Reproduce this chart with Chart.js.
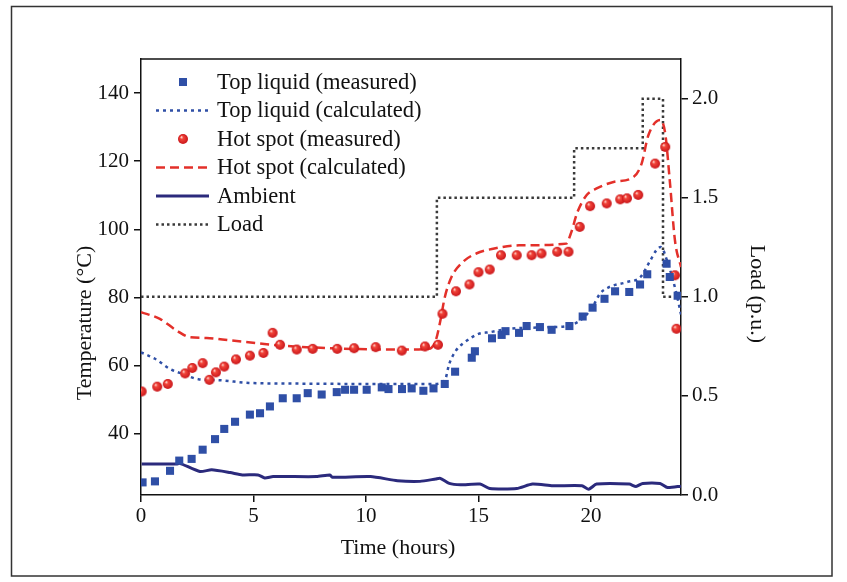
<!DOCTYPE html>
<html><head><meta charset="utf-8">
<script src="https://cdn.jsdelivr.net/npm/chart.js@4.4.1/dist/chart.umd.min.js"></script>
<style>html,body{margin:0;padding:0;background:#fff;}#wrap{position:relative;width:847px;height:582px;}</style>
</head><body><div id="wrap"><canvas id="c"></canvas></div>
<script>
// ---- tick labels ----
const timeTicks = [0, 5, 10, 15, 20];
const tempTicks = [40, 60, 80, 100, 120, 140];
const loadTicks = [0.0, 0.5, 1.0, 1.5, 2.0];

// ---- Top liquid (measured) ----
const topMeasT = [0.07,0.62,1.29,1.7,2.25,2.74,3.29,3.7,4.18,4.84,5.29,5.73,6.3,6.92,7.41,8.03,8.7,9.07,9.47,10.03,10.7,11.0,11.6,12.03,12.55,13.0,13.5,13.96,14.7,14.84,15.6,16.03,16.2,16.8,17.14,17.73,18.25,19.04,19.63,20.07,20.6,21.07,21.7,22.18,22.5,23.36,23.5,23.85];
const topMeasV = [25.7,26.0,29.1,32.1,32.6,35.3,38.4,41.4,43.5,45.6,46.0,48.0,50.4,50.4,51.9,51.5,52.2,52.9,52.9,52.9,53.6,53.1,53.1,53.3,52.6,53.3,54.6,58.2,62.3,64.2,68.0,69.0,70.1,69.6,71.6,71.3,70.5,71.6,74.4,77.0,79.6,81.8,81.6,83.8,86.8,89.9,86.0,80.5];

// ---- Top liquid (calculated) ----
const topCalcT = [0,0.62,1.29,1.88,2.55,3.5,4.8,7,10,13,13.5,13.7,14.0,14.5,15.0,15.5,16.4,18.3,19.07,19.7,20.1,20.4,20.8,21.6,22.2,22.6,22.9,23.1,23.4,23.8,24];
const topCalcV = [63.9,62.0,59.0,57.5,56.0,55.7,54.9,54.7,54.6,54.6,55.6,60.5,64.4,67.4,69.3,69.8,70.8,71.3,71.8,74.2,77.6,81.1,83.0,84.5,86.0,90.4,93.8,94.8,90.4,81.1,75.0];

// ---- Hot spot (measured) ----
const hotMeasT = [0.03,0.72,1.19,1.96,2.28,2.74,3.04,3.33,3.7,4.22,4.84,5.44,5.85,6.18,6.92,7.63,8.72,9.47,10.43,11.59,12.62,13.2,13.4,14.0,14.6,15.0,15.5,16.0,16.7,17.36,17.8,18.5,19.0,19.5,19.96,20.7,21.3,21.6,22.1,22.85,23.3,23.73,23.8];
const hotMeasV = [52.4,53.8,54.6,57.7,59.3,60.7,55.8,58.0,59.7,61.8,62.9,63.7,69.6,66.1,64.7,64.9,64.9,65.1,65.4,64.4,65.6,66.1,75.2,81.8,83.8,87.4,88.2,92.4,92.4,92.4,92.9,93.4,93.4,100.7,106.8,107.6,108.8,109.1,110.1,119.3,124.2,86.5,70.8];

// ---- Hot spot (calculated) ----
const hotCalcT = [0,0.84,1.58,2.18,2.92,3.96,5.14,6.18,8.4,11.4,12.8,13.1,13.3,13.5,13.8,14.3,14.9,15.65,16.8,18.9,19.1,19.4,19.8,20.25,21.0,21.9,22.25,22.55,23.07,23.3,23.5,23.73,24];
const hotCalcV = [75.7,73.7,70.3,68.3,68.1,67.4,66.6,65.9,65.1,64.7,64.9,67.4,73.0,80.0,86.0,90.4,92.9,94.3,95.3,95.8,98.7,105.1,110.0,112.0,113.9,115.4,119.3,127.6,132.1,128.1,114.4,96.8,88.9];

// ---- Ambient ----
const ambT = [0.03,1.58,1.73,2.62,3.14,3.96,4.5,5.2,5.5,5.87,7.8,8.4,8.5,10.2,11.4,12.4,13.1,13.3,13.7,14.2,15.07,15.5,16.7,17.4,18.3,19.6,19.9,20.25,21.7,22.0,22.3,23.07,23.4,24];
const ambV = [31.1,31.1,31.3,28.9,29.4,28.6,27.9,27.9,27.0,27.4,27.4,27.9,27.2,27.4,26.2,26.0,26.7,26.9,25.4,25.0,25.2,23.9,23.9,25.2,24.7,24.7,23.7,25.2,25.2,24.5,25.4,25.4,24.2,24.6];

// ---- Load (step changes, p.u.) ----
const loadT = [0, 13.15, 19.25, 22.3, 23.2, 24];
const loadV = [1.0, 1.5, 1.75, 2.0, 1.0, 1.0];

const zip = (t, v) => t.map((x, i) => ({x: x, y: v[i]}));

const BLUE = '#2f4fa6', RED = '#e3302a', NAVY = '#2b2a7c', LOADC = '#3a3a3a';
const SERIF = '"Liberation Serif", "Times New Roman", serif';

function sphere(r) {
  const c = document.createElement('canvas');
  c.width = c.height = 2 * r + 2;
  const g = c.getContext('2d');
  const cx = r + 1, cy = r + 1;
  const grad = g.createRadialGradient(cx - r * 0.35, cy - r * 0.4, r * 0.05, cx, cy, r);
  grad.addColorStop(0, '#ffe2da');
  grad.addColorStop(0.3, '#f2453a');
  grad.addColorStop(1, '#c9151a');
  g.fillStyle = grad;
  g.beginPath(); g.arc(cx, cy, r, 0, Math.PI * 2); g.fill();
  return c;
}
const ball = sphere(5);

const styles = {
  topCalcDash: [3, 4],
  hotCalcDash: [9, 5],
  loadDash: [2.5, 3]
};

const overlay = {
  id: 'overlay',
  afterDraw(chart) {
    const ctx = chart.ctx, a = chart.chartArea;
    ctx.save();
    ctx.strokeStyle = '#111'; ctx.lineWidth = 1.5;
    ctx.beginPath(); ctx.moveTo(a.left, a.top); ctx.lineTo(a.right, a.top); ctx.stroke();
    ctx.strokeStyle = '#333'; ctx.lineWidth = 1.5;
    ctx.strokeRect(11.5, 6.5, 820.5, 569.5);
    ctx.fillStyle = '#111';
    ctx.font = '22px ' + SERIF;
    ctx.textAlign = 'center'; ctx.textBaseline = 'middle';
    ctx.fillText('Time (hours)', 398, 548);
    ctx.save(); ctx.translate(85, 323); ctx.rotate(-Math.PI / 2);
    ctx.fillText('Temperature (\u00B0C)', 0, 0); ctx.restore();
    ctx.save(); ctx.translate(757, 294); ctx.rotate(Math.PI / 2);
    ctx.fillText('Load (p.u.)', 0, 0); ctx.restore();
    const labels = ['Top liquid (measured)', 'Top liquid (calculated)', 'Hot spot (measured)', 'Hot spot (calculated)', 'Ambient', 'Load'];
    const x0 = 156, x1 = 209, xc = 183, tx = 217;
    labels.forEach((lab, i) => {
      const y = 82 + i * 28.5;
      ctx.save();
      if (i === 0) { ctx.fillStyle = BLUE; ctx.fillRect(xc - 4, y - 4, 8, 8); }
      else if (i === 2) { ctx.drawImage(ball, xc - 6, y - 6); }
      else {
        const ds = [null, {c: BLUE, d: styles.topCalcDash, w: 2.5}, null, {c: RED, d: styles.hotCalcDash, w: 2.5}, {c: NAVY, d: [], w: 3}, {c: LOADC, d: styles.loadDash, w: 2.5}][i];
        ctx.strokeStyle = ds.c; ctx.lineWidth = ds.w; ctx.setLineDash(ds.d);
        ctx.beginPath(); ctx.moveTo(x0, y); ctx.lineTo(x1, y); ctx.stroke();
      }
      ctx.restore();
      ctx.fillStyle = '#111'; ctx.textAlign = 'left'; ctx.textBaseline = 'middle';
      ctx.font = '22.5px ' + SERIF;
      ctx.fillText(lab, tx, y + 1);
    });
    ctx.restore();
  }
};

const tickFont = {family: SERIF, size: 21};
const gridCommon = {display: true, drawOnChartArea: false, drawTicks: true, tickLength: 7, color: '#111', lineWidth: 1.5};
const borderCommon = {display: true, color: '#111', width: 1.5};

new Chart(document.getElementById('c'), {
  type: 'scatter',
  data: {
    datasets: [
      {label: 'Top liquid (measured)', data: zip(topMeasT, topMeasV), showLine: false, pointStyle: 'rect', pointRadius: 5.7, backgroundColor: BLUE, borderColor: BLUE, borderWidth: 0, yAxisID: 'y'},
      {label: 'Hot spot (measured)', data: zip(hotMeasT, hotMeasV), showLine: false, pointStyle: ball, pointRadius: 5, yAxisID: 'y'},
      {label: 'Top liquid (calculated)', data: zip(topCalcT, topCalcV), showLine: true, pointRadius: 0, borderColor: BLUE, borderWidth: 2.5, borderDash: styles.topCalcDash, cubicInterpolationMode: 'monotone', yAxisID: 'y'},
      {label: 'Hot spot (calculated)', data: zip(hotCalcT, hotCalcV), showLine: true, pointRadius: 0, borderColor: RED, borderWidth: 2.5, borderDash: styles.hotCalcDash, cubicInterpolationMode: 'monotone', yAxisID: 'y'},
      {label: 'Ambient', data: zip(ambT, ambV), showLine: true, pointRadius: 0, borderColor: NAVY, borderWidth: 3, tension: 0.2, yAxisID: 'y'},
      {label: 'Load', data: zip(loadT, loadV), showLine: true, pointRadius: 0, borderColor: LOADC, borderWidth: 2.5, borderDash: styles.loadDash, stepped: 'before', yAxisID: 'y1'}
    ]
  },
  options: {
    responsive: true, maintainAspectRatio: false, animation: false,
    layout: {padding: {top: 59, left: 0, right: 0, bottom: 0}},
    plugins: {legend: {display: false}, tooltip: {enabled: false}},
    scales: {
      x: {type: 'linear', position: 'bottom', min: 0, max: 24,
        afterFit: s => { s.height = 87; },
        afterBuildTicks: s => { s.ticks = timeTicks.map(v => ({value: v})); },
        grid: gridCommon, border: borderCommon,
        ticks: {color: '#111', font: tickFont, padding: 2, maxRotation: 0, autoSkip: false}},
      y: {type: 'linear', position: 'left', min: 22, max: 150,
        afterFit: s => { s.width = 141; },
        afterBuildTicks: s => { s.ticks = tempTicks.map(v => ({value: v})); },
        grid: gridCommon, border: borderCommon,
        ticks: {color: '#111', font: tickFont, padding: 5, autoSkip: false}},
      y1: {type: 'linear', position: 'right', min: 0, max: 2.2,
        afterFit: s => { s.width = 166; },
        afterBuildTicks: s => { s.ticks = loadTicks.map(v => ({value: v})); },
        grid: gridCommon, border: borderCommon,
        ticks: {color: '#111', font: tickFont, padding: 4, autoSkip: false, callback: v => Number(v).toFixed(1)}}
    }
  },
  plugins: [overlay]
});
</script></body></html>
